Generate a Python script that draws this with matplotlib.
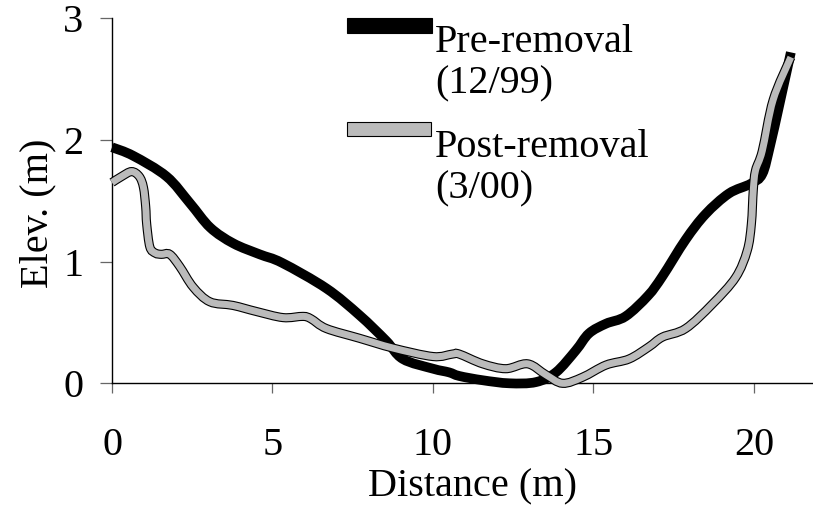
import matplotlib
matplotlib.use("Agg")
import matplotlib.pyplot as plt
import matplotlib.patheffects as pe
from matplotlib.patches import Rectangle, PathPatch
from matplotlib.path import Path

# ---- data ----
pre_dist = [0, 0.66, 1.7, 2.43, 3.06, 3.78, 4.6, 5.3, 6.68, 7.71, 8.54,
            9.06, 10.0, 10.5, 10.82, 11.55, 12.38, 13.21, 13.83, 14.45, 14.86,
            15.39, 16.0, 16.7, 17.15, 17.87, 18.49, 19.22, 19.9, 20.26, 20.5,
            20.8, 21.15]
pre_elev = [1.94, 1.87, 1.70, 1.48, 1.28, 1.15, 1.06, 0.99, 0.78, 0.56, 0.35,
            0.20, 0.12, 0.09, 0.06, 0.025, 0.0, 0.01, 0.09, 0.27, 0.41,
            0.49, 0.55, 0.72, 0.88, 1.18, 1.39, 1.56, 1.64, 1.72, 1.95,
            2.30, 2.72]

post_dist = [0, 0.3, 0.61, 0.85, 0.98, 1.05, 1.08, 1.18, 1.35, 1.54, 1.8, 2.11,
             2.53, 3.05, 3.77, 4.5, 5.33, 5.95, 6.2, 6.68, 7.71, 8.75, 10.0,
             10.6, 10.82, 11.55, 12.27, 12.95, 13.52, 14.04, 14.66, 15.39, 16.11,
             16.73, 17.15, 17.87, 18.7, 19.43, 19.79, 19.92, 19.98, 20.05, 20.26,
             20.6, 21.15]
post_elev = [1.65, 1.70, 1.74, 1.70, 1.61, 1.45, 1.31, 1.12, 1.07, 1.06, 1.06, 0.96,
             0.79, 0.67, 0.64, 0.59, 0.54, 0.55, 0.53, 0.45, 0.37, 0.29, 0.22,
             0.24, 0.24, 0.16, 0.12, 0.16, 0.07, 0.0, 0.05, 0.15, 0.20,
             0.30, 0.38, 0.45, 0.65, 0.87, 1.09, 1.31, 1.59, 1.75, 1.91,
             2.33, 2.68]

x_ticks = [0, 5, 10, 15, 20]
y_ticks = [0, 1, 2, 3]
labels = ["Pre-removal\n(12/99)", "Post-removal\n(3/00)"]

plt.rcParams['font.family'] = ['Liberation Serif', 'DejaVu Serif']
FS = 29
GRAY = '#bbbbbb'


def smooth_path(xs, ys):
    """Smoothed (Excel-style) line through the points, as cubic Bezier segments."""
    pts = list(zip(xs, ys))
    n = len(pts)
    verts = [pts[0]]
    codes = [Path.MOVETO]
    for i in range(n - 1):
        p0 = pts[i - 1] if i > 0 else pts[i]
        p1 = pts[i]
        p2 = pts[i + 1]
        p3 = pts[i + 2] if i + 2 < n else pts[i + 1]
        c1 = (p1[0] + (p2[0] - p0[0]) / 6, p1[1] + (p2[1] - p0[1]) / 6)
        c2 = (p2[0] - (p3[0] - p1[0]) / 6, p2[1] - (p3[1] - p1[1]) / 6)
        verts += [c1, c2, p2]
        codes += [Path.CURVE4] * 3
    return Path(verts, codes)


fig = plt.figure(figsize=(8.13, 5.07), dpi=100)
W, H = 813, 507
ax = fig.add_axes([112 / W, (H - 383.3) / H, (W - 112) / W, 365 / H])

ax.add_patch(PathPatch(smooth_path(pre_dist, pre_elev), fill=False,
                       edgecolor='black', lw=7.0, capstyle='butt',
                       clip_on=False, zorder=3))
ax.add_patch(PathPatch(smooth_path(post_dist, post_elev), fill=False,
                       edgecolor=GRAY, lw=5.0, capstyle='butt',
                       clip_on=False, zorder=4,
                       path_effects=[pe.Stroke(linewidth=6.6, foreground='black'),
                                     pe.Normal()]))

ax.set_xlim(0, 21.84)
ax.set_ylim(0, 3)
ax.set_xticks(x_ticks)
ax.set_yticks(y_ticks)
ax.spines['top'].set_visible(False)
ax.spines['right'].set_visible(False)
for s in ('left', 'bottom'):
    ax.spines[s].set_linewidth(1.0)
    ax.spines[s].set_color('black')
ax.tick_params(axis='x', direction='out', length=7.2, width=0.9, color='0.4',
               labelsize=FS, pad=24)
ax.tick_params(axis='y', direction='out', length=8.6, width=0.9, color='0.4',
               labelsize=FS, pad=12)

fig.text(472 / W, 1 - 487 / H, 'Distance (m)', fontsize=FS, ha='center', va='center')
fig.text(38 / W, 1 - 213 / H, 'Elev. (m)', fontsize=FS, ha='center', va='center',
         rotation=90)

# legend (manual)
fig.patches.append(Rectangle((347 / W, 1 - 33 / H), 85 / W, 15 / H,
                             transform=fig.transFigure, facecolor='black',
                             edgecolor='black', lw=0.8))
fig.patches.append(Rectangle((347 / W, 1 - 136 / H), 84 / W, 14 / H,
                             transform=fig.transFigure, facecolor=GRAY,
                             edgecolor='black', lw=0.8))
fig.text(435 / W, 1 - 24 / H, labels[0], fontsize=FS, ha='left', va='top',
         linespacing=1.15)
fig.text(435 / W, 1 - 129 / H, labels[1], fontsize=FS, ha='left', va='top',
         linespacing=1.15)

fig.savefig('out.png', dpi=100)
